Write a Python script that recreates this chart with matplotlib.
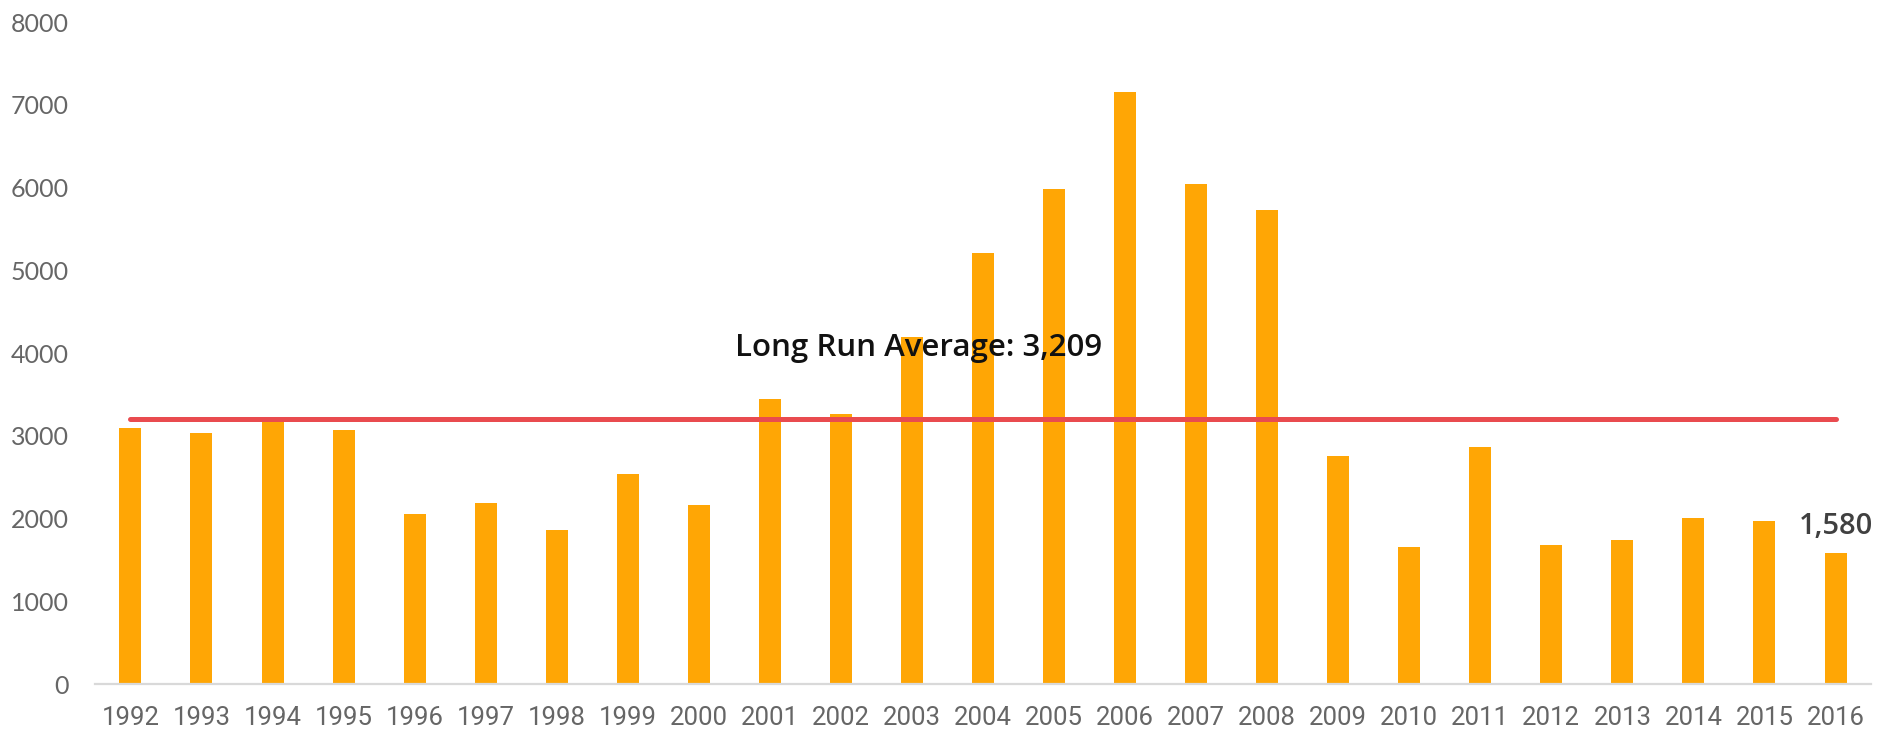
import matplotlib
matplotlib.use("Agg")
import matplotlib.pyplot as plt
import numpy as np

years = [str(y) for y in range(1992, 2017)]
values = [3090, 3030, 3230, 3070, 2060, 2190, 1860, 2535, 2160, 3445,
          3260, 4195, 5215, 5980, 7155, 6045, 5725, 2760, 1660, 2865,
          1675, 1745, 2010, 1970, 1580]
long_run_average = 3209
y_ticks = [0, 1000, 2000, 3000, 4000, 5000, 6000, 7000, 8000]

bar_color = "#FFA605"
avg_color = "#E94B4F"
tick_color = "#666666"

fig = plt.figure(figsize=(18.98, 7.34), dpi=100)
ax = fig.add_axes([0.050, 0.068, 0.9358, 0.902])

x = np.arange(len(years))
ax.bar(x, values, width=0.31, color=bar_color, zorder=2)
ax.plot([x[0], x[-1]], [long_run_average, long_run_average],
        color=avg_color, lw=3.6, solid_capstyle="round", zorder=3)

ax.text(11.1, long_run_average + 760,
        f"Long Run Average: {long_run_average:,}", ha="center", va="baseline",
        fontsize=22.5, fontweight="semibold", family=["Open Sans", "DejaVu Sans"],
        color="#111111", zorder=4)
ax.text(x[-1], values[-1] + 230, f"{values[-1]:,}", ha="center", va="baseline",
        fontsize=21, fontweight="semibold", family=["Open Sans", "DejaVu Sans"],
        color="#404040", zorder=4)

ax.set_xlim(-0.5, len(years) - 0.5)
ax.set_ylim(0, 8000)
ax.set_yticks(y_ticks)
ax.set_yticklabels([str(t) for t in y_ticks], family=["Lato", "DejaVu Sans"],
                   fontsize=18, color=tick_color)
ax.set_xticks(x)
ax.set_xticklabels(years, family=["Liberation Sans Narrow", "Roboto", "DejaVu Sans"],
                   fontsize=18.5, color=tick_color)
ax.tick_params(axis="y", length=0, pad=19)
ax.tick_params(axis="x", length=0, pad=16)

for side in ("top", "right", "left"):
    ax.spines[side].set_visible(False)
ax.spines["bottom"].set_color("#D9D9D9")
ax.spines["bottom"].set_linewidth(1.6)

fig.savefig("out.png", dpi=100)
